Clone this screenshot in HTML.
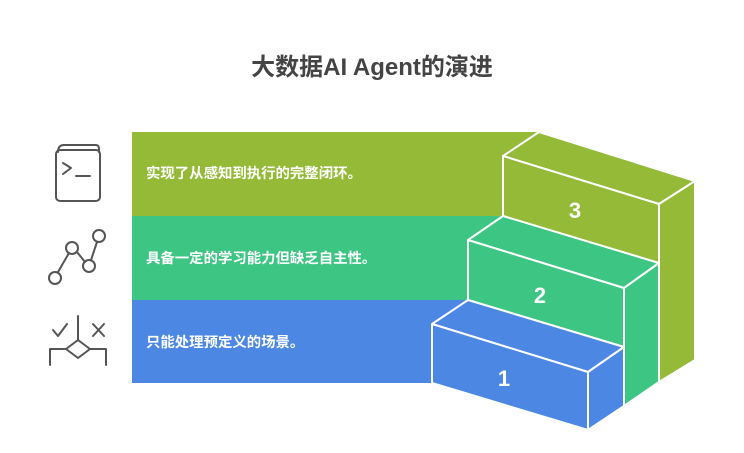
<!DOCTYPE html>
<html><head><meta charset="utf-8"><style>
body{margin:0;width:744px;height:453px;background:#fff;overflow:hidden}
svg{display:block}
</style></head><body>
<svg width="744" height="453" viewBox="0 0 744 453" xmlns="http://www.w3.org/2000/svg">
<text x="372" y="75" text-anchor="middle" font-family="Liberation Sans, Noto Sans CJK SC, sans-serif" font-weight="bold" font-size="24" fill="#444">大数据AI Agent的演进</text>
<!-- bands -->
<polygon points="132,132 539,132 503,156 503,216 132,216" fill="#94BA38"/>
<polygon points="132,216 503,216 468,240 468,300 132,300" fill="#3CC583"/>
<polygon points="132,300 468,300 432,324 432,383 132,383" fill="#4C87E3"/>
<g stroke="#fff" stroke-width="2" stroke-linejoin="round">
<polygon points="539,132 695,181 659,204 503,156" fill="#94BA38"/>
<polygon points="503,156 659,204 659,263 503,216" fill="#94BA38"/>
<polygon points="659,204 695,181 695,360 659,382" fill="#94BA38"/>
<polygon points="503,216 659,263 624,288 468,240" fill="#3CC583"/>
<polygon points="468,240 624,288 624,347 468,300" fill="#3CC583"/>
<polygon points="624,288 659,263 659,382 624,406" fill="#3CC583"/>
<polygon points="468,300 624,347 588,372 432,324" fill="#4C87E3"/>
<polygon points="432,324 588,372 588,430 432,383" fill="#4C87E3"/>
<polygon points="588,372 624,347 624,406 588,430" fill="#4C87E3"/>
</g>
<g font-family="Liberation Sans, sans-serif" font-weight="bold" font-size="22" fill="#fff" text-anchor="middle">
<text x="575" y="218">3</text><text x="540" y="303">2</text><text x="504" y="386">1</text>
</g>
<g font-family="Liberation Sans, Noto Sans CJK SC, sans-serif" font-size="14.4" font-weight="bold" fill="#fff">
<text x="146" y="178">实现了从感知到执行的完整闭环。</text>
<text x="146" y="263">具备一定的学习能力但缺乏自主性。</text>
<text x="146" y="347">只能处理预定义的场景。</text>
</g>
<g fill="none" stroke="#555" stroke-width="2" stroke-linecap="round" stroke-linejoin="round">
<rect x="56" y="150" width="44" height="51" rx="4"/>
<path d="M58,152 Q58,145 64,145 H96 Q99,145 99,149 V152"/>
<path d="M63,163 L71,168 L63,174 M76,176 H90"/>
<circle cx="55" cy="278" r="6"/><circle cx="72" cy="248" r="6"/><circle cx="89" cy="266" r="6"/><circle cx="99" cy="236" r="6"/>
<path d="M58,272 L69,253 M77,252 L85,262 M91,260 L97,242"/>
<path d="M53,330 L58,336 L67,324 M93,324 L104,336 M104,324 L93,336"/>
<path d="M78,316 V340 M78,340 L90,349 L78,358 L66,349 Z M66,349 H50 V365 M90,349 H106 V365"/>
</g>
</svg>
</body></html>
